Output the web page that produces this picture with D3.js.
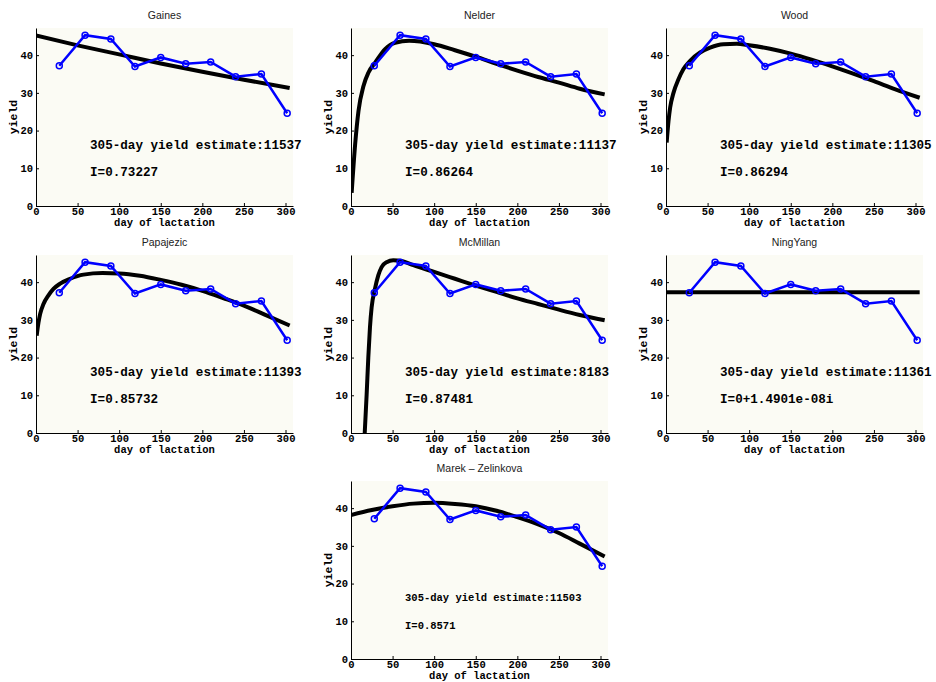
<!DOCTYPE html>
<html>
<head>
<meta charset="utf-8">
<script src="https://cdn.jsdelivr.net/npm/d3@7"></script>
<style>
  body { margin: 0; background: #fff; }
  .tick text { font-family: "Liberation Mono", "DejaVu Sans Mono", monospace; font-weight: bold; font-size: 10.5px; fill: #000; }
</style>
</head>
<body>
<div id="chart"></div>
<script>
// measured test days and yields (same for every panel)
const days = [28, 59, 90, 119, 150, 180, 210, 240, 271, 302];
const yields = [37.2, 45.3, 44.3, 37.0, 39.4, 37.7, 38.2, 34.3, 35.0, 24.6];

// panel labels
const models = ['Gaines', 'Nelder', 'Wood', 'Papajezic', 'McMillan', 'NingYang', 'Marek \u2013 Zelinkova'];
const estimates = ['11537', '11137', '11305', '11393', '8183', '11361', '11503'];
const fitIndex = ['0.73227', '0.86264', '0.86294', '0.85732', '0.87481', '0+1.4901e-08i', '0.8571'];

// fitted curves
const gainesT = [0, 50, 100, 150, 200, 250, 305];
const gainesY = [45.2, 42.6, 40.2, 37.8, 35.6, 33.5, 31.3];
const nelderT = [0.8, 5, 9, 15, 21, 29, 41, 53, 70, 100, 125, 150, 175, 200, 225, 250, 275, 305];
const nelderY = [3.5, 16.4, 25.2, 31.8, 35.4, 38.0, 41.6, 43.3, 43.8, 42.9, 41.3, 39.6, 37.7, 35.9, 34.2, 32.7, 31.1, 29.6];
const woodT = [0.8, 3, 5, 9, 15, 21, 29, 41, 53, 69, 85, 100, 125, 150, 175, 200, 225, 250, 275, 305];
const woodY = [16.8, 22.5, 26.1, 30.0, 33.6, 36.3, 38.5, 40.7, 42.0, 42.9, 43.0, 42.6, 41.7, 40.4, 38.8, 37.0, 35.1, 33.1, 31.0, 28.7];
const papajezicT = [0.8, 3, 5, 9, 15, 21, 29, 41, 57, 80, 100, 125, 150, 175, 200, 225, 250, 275, 305];
const papajezicY = [25.8, 29.3, 31.6, 34.2, 36.5, 38.2, 39.6, 40.9, 42.0, 42.4, 42.3, 41.7, 40.6, 39.3, 37.7, 35.8, 33.8, 31.4, 28.5];
const mcmillanT = [16.5, 18.8, 20.8, 22.8, 24.8, 28.8, 32.8, 36.8, 42.8, 50.8, 61, 75, 100, 125, 150, 175, 200, 225, 250, 275, 305];
const mcmillanY = [0, 10.2, 20, 28, 33.3, 38.2, 41.8, 44, 45.3, 45.8, 45.6, 44.5, 42.7, 40.9, 39.1, 37.4, 35.7, 34.2, 32.7, 31.3, 29.9];
const ningyangT = [1, 305];
const ningyangY = [37.3, 37.3];
const marekT = [0, 25, 50, 75, 100, 125, 150, 175, 200, 225, 250, 275, 305];
const marekY = [38.2, 39.5, 40.5, 41.2, 41.4, 41.1, 40.5, 39.3, 37.6, 35.7, 33.4, 30.6, 27.2];

const curveT = [gainesT, nelderT, woodT, papajezicT, mcmillanT, ningyangT, marekT];
const curveY = [gainesY, nelderY, woodY, papajezicY, mcmillanY, ningyangY, marekY];

const xTicks = [0, 50, 100, 150, 200, 250, 300];
const yTicks = [0, 10, 20, 30, 40];

const W = 936, H = 682;
const pw = 257, ph = 178;
const cols = [36, 351, 666];
const rows = [28, 255, 481];
const slots = [[0, 0], [1, 0], [2, 0], [0, 1], [1, 1], [2, 1], [1, 2]];

const mono = '"Liberation Mono", "DejaVu Sans Mono", monospace';

const svg = d3.select('#chart').append('svg')
  .attr('width', W).attr('height', H);

const x = d3.scaleLinear().domain([0, 309]).range([0, pw]);
const y = d3.scaleLinear().domain([0, 47.2]).range([ph, 0]);

svg.append('defs').append('clipPath').attr('id', 'plotclip')
  .append('rect').attr('width', pw).attr('height', ph);

models.forEach((name, i) => {
  const [c, r] = slots[i];
  const g = svg.append('g').attr('transform', `translate(${cols[c]},${rows[r]})`);

  g.append('rect').attr('width', pw).attr('height', ph).attr('fill', '#fbfbf4');

  // title
  g.append('text')
    .attr('x', pw / 2).attr('y', -9)
    .attr('text-anchor', 'middle')
    .style('font-family', '"Liberation Sans", Arial, sans-serif')
    .style('font-size', '10.5px')
    .attr('fill', '#222')
    .text(name);

  const plot = g.append('g').attr('clip-path', 'url(#plotclip)');

  // fitted curve
  const pts = curveT[i].map((t, k) => [t, curveY[i][k]]);
  plot.append('path')
    .datum(pts)
    .attr('fill', 'none')
    .attr('stroke', '#000')
    .attr('stroke-width', 4)
    .attr('d', d3.line().x(d => x(d[0])).y(d => y(d[1])).curve(d3.curveMonotoneX));

  // observed data
  const obs = days.map((t, k) => [t, yields[k]]);
  plot.append('path')
    .datum(obs)
    .attr('fill', 'none')
    .attr('stroke', '#0000ff')
    .attr('stroke-width', 2.5)
    .attr('d', d3.line().x(d => x(d[0])).y(d => y(d[1])));
  plot.selectAll('circle').data(obs).join('circle')
    .attr('cx', d => x(d[0])).attr('cy', d => y(d[1]))
    .attr('r', 3)
    .attr('fill', 'none')
    .attr('stroke', '#0000ff')
    .attr('stroke-width', 1.5);

  // axes
  g.append('g').attr('transform', `translate(0,${ph})`)
    .call(d3.axisBottom(x).tickValues(xTicks).tickSizeInner(-3).tickSizeOuter(0).tickPadding(2))
    .call(a => a.select('.domain').attr('stroke-width', 1));
  g.append('g')
    .call(d3.axisLeft(y).tickValues(yTicks).tickSizeInner(-3).tickSizeOuter(0).tickPadding(3))
    .call(a => a.select('.domain').attr('stroke-width', 1));

  const small = i === 6;
  const fs = small ? 10.5 : 12.6;

  g.append('text')
    .attr('x', x(65)).attr('y', y(16))
    .attr('dominant-baseline', 'middle')
    .style('font-family', mono).style('font-weight', 'bold').style('font-size', fs + 'px')
    .text('305-day yield estimate:' + estimates[i]);
  g.append('text')
    .attr('x', x(65)).attr('y', y(8.8))
    .attr('dominant-baseline', 'middle')
    .style('font-family', mono).style('font-weight', 'bold').style('font-size', fs + 'px')
    .text('I=' + fitIndex[i]);

  // axis labels
  g.append('text')
    .attr('x', pw / 2).attr('y', ph + 20)
    .attr('text-anchor', 'middle')
    .style('font-family', mono).style('font-weight', 'bold').style('font-size', '10.5px')
    .text('day of lactation');
  g.append('text')
    .attr('transform', `translate(-19,${ph / 2}) rotate(-90)`)
    .attr('text-anchor', 'middle')
    .style('font-family', mono).style('font-weight', 'bold').style('font-size', '11.5px')
    .text('yield');
});
</script>
</body>
</html>
